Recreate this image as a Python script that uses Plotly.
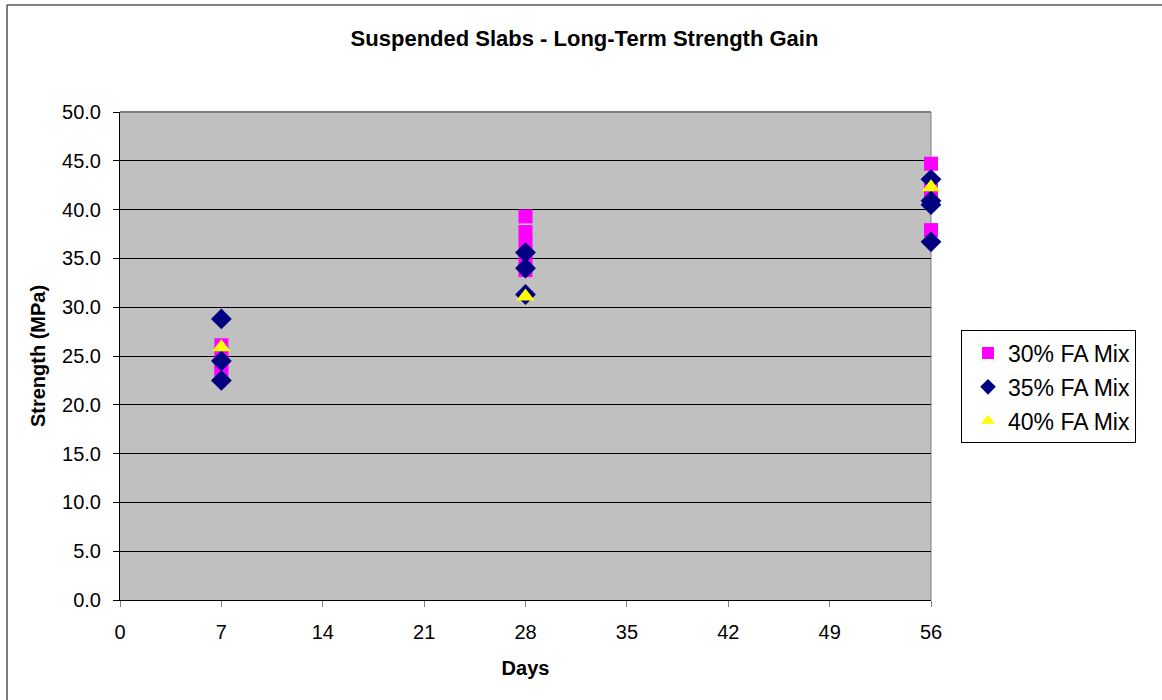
import plotly.graph_objects as go

# Test ages (days) and measured strengths (MPa) for each mix
days_30 = [7, 7, 7, 7, 28, 28, 28, 28, 28, 56, 56, 56, 56]
fa30 = [26.1, 25.2, 24.0, 23.3, 39.3, 37.7, 36.5, 35.0, 33.8, 44.7, 42.0, 41.0, 37.9]

days_35 = [7, 7, 7, 28, 28, 28, 56, 56, 56, 56]
fa35 = [28.8, 24.5, 22.5, 35.6, 34.0, 31.3, 43.1, 40.9, 40.5, 36.7]

days_40 = [7, 28, 56]
fa40 = [25.9, 31.1, 42.3]

x_ticks = [0, 7, 14, 21, 28, 35, 42, 49, 56]
y_ticks = [0, 5, 10, 15, 20, 25, 30, 35, 40, 45, 50]

FONT = "Liberation Sans, Arial, sans-serif"

fig = go.Figure()
fig.add_trace(go.Scatter(
    x=days_30, y=fa30, mode="markers", name="30% FA Mix", legendgroup="a",
    marker=dict(symbol="square", size=14, color="#FF00FF", line=dict(width=0)),
    cliponaxis=False,
))
fig.add_trace(go.Scatter(
    x=days_35, y=fa35, mode="markers", name="35% FA Mix", legendgroup="b",
    marker=dict(symbol="diamond", size=16, color="#000080", line=dict(width=0)),
    cliponaxis=False,
))
fig.add_trace(go.Scatter(
    x=days_40, y=fa40, mode="markers", name="40% FA Mix", legendgroup="c",
    marker=dict(symbol="triangle-up", size=16, color="#FFFF00", line=dict(width=0)),
    cliponaxis=False,
))

fig.update_layout(
    width=1162, height=700,
    margin=dict(l=120, r=231, t=112, b=100),
    paper_bgcolor="white",
    plot_bgcolor="#C0C0C0",
    font=dict(family=FONT, size=20, color="black"),
    title=dict(
        text="<b>Suspended Slabs - Long-Term Strength Gain</b>",
        x=0.503, xref="container", xanchor="center",
        y=1 - 38 / 700, yref="container", yanchor="middle",
        font=dict(family=FONT, size=22),
    ),
    xaxis=dict(
        range=[0, 56], tickvals=x_ticks, ticktext=[str(v) for v in x_ticks],
        showgrid=False, zeroline=False,
        showline=True, linecolor="black", linewidth=1,
        ticks="outside", ticklen=6, tickcolor="#808080",
        ticklabelstandoff=8,
        title=dict(text="<b>Days</b>", standoff=18, font=dict(size=20)),
        tickfont=dict(size=20),
    ),
    yaxis=dict(
        range=[0, 50], tickvals=y_ticks, tickformat=".1f",
        showgrid=True, gridcolor="black", gridwidth=1,
        zeroline=False,
        showline=True, linecolor="black", linewidth=1,
        ticks="outside", ticklen=6, tickcolor="black",
        ticklabelstandoff=8,
        title=dict(text="<b>Strength (MPa)</b>", standoff=11, font=dict(size=20)),
        tickfont=dict(size=20),
    ),
    legend=dict(
        x=1.037, xref="paper", xanchor="left",
        y=0.4365, yanchor="middle",
        bgcolor="white", bordercolor="black", borderwidth=1,
        font=dict(family=FONT, size=23),
        itemsizing="constant",
        traceorder="grouped",
        tracegroupgap=1,
        indentation=6,
        entrywidth=161,
    ),
    showlegend=True,
)

# Gray frame along the top and right of the plotting area
fig.add_shape(type="line", xref="paper", yref="paper", x0=0, x1=1, y0=1, y1=1,
              line=dict(color="#808080", width=2), layer="above")
fig.add_shape(type="line", xref="paper", yref="paper", x0=1, x1=1, y0=0, y1=1,
              line=dict(color="#808080", width=1), layer="below")

# Outer chart border
fig.add_shape(type="rect", xref="paper", yref="paper",
              x0=-0.1393, x1=1.5, y0=-0.4, y1=1.2193,
              line=dict(color="black", width=1), fillcolor="rgba(0,0,0,0)",
              layer="above")

fig.write_html("out.html")
